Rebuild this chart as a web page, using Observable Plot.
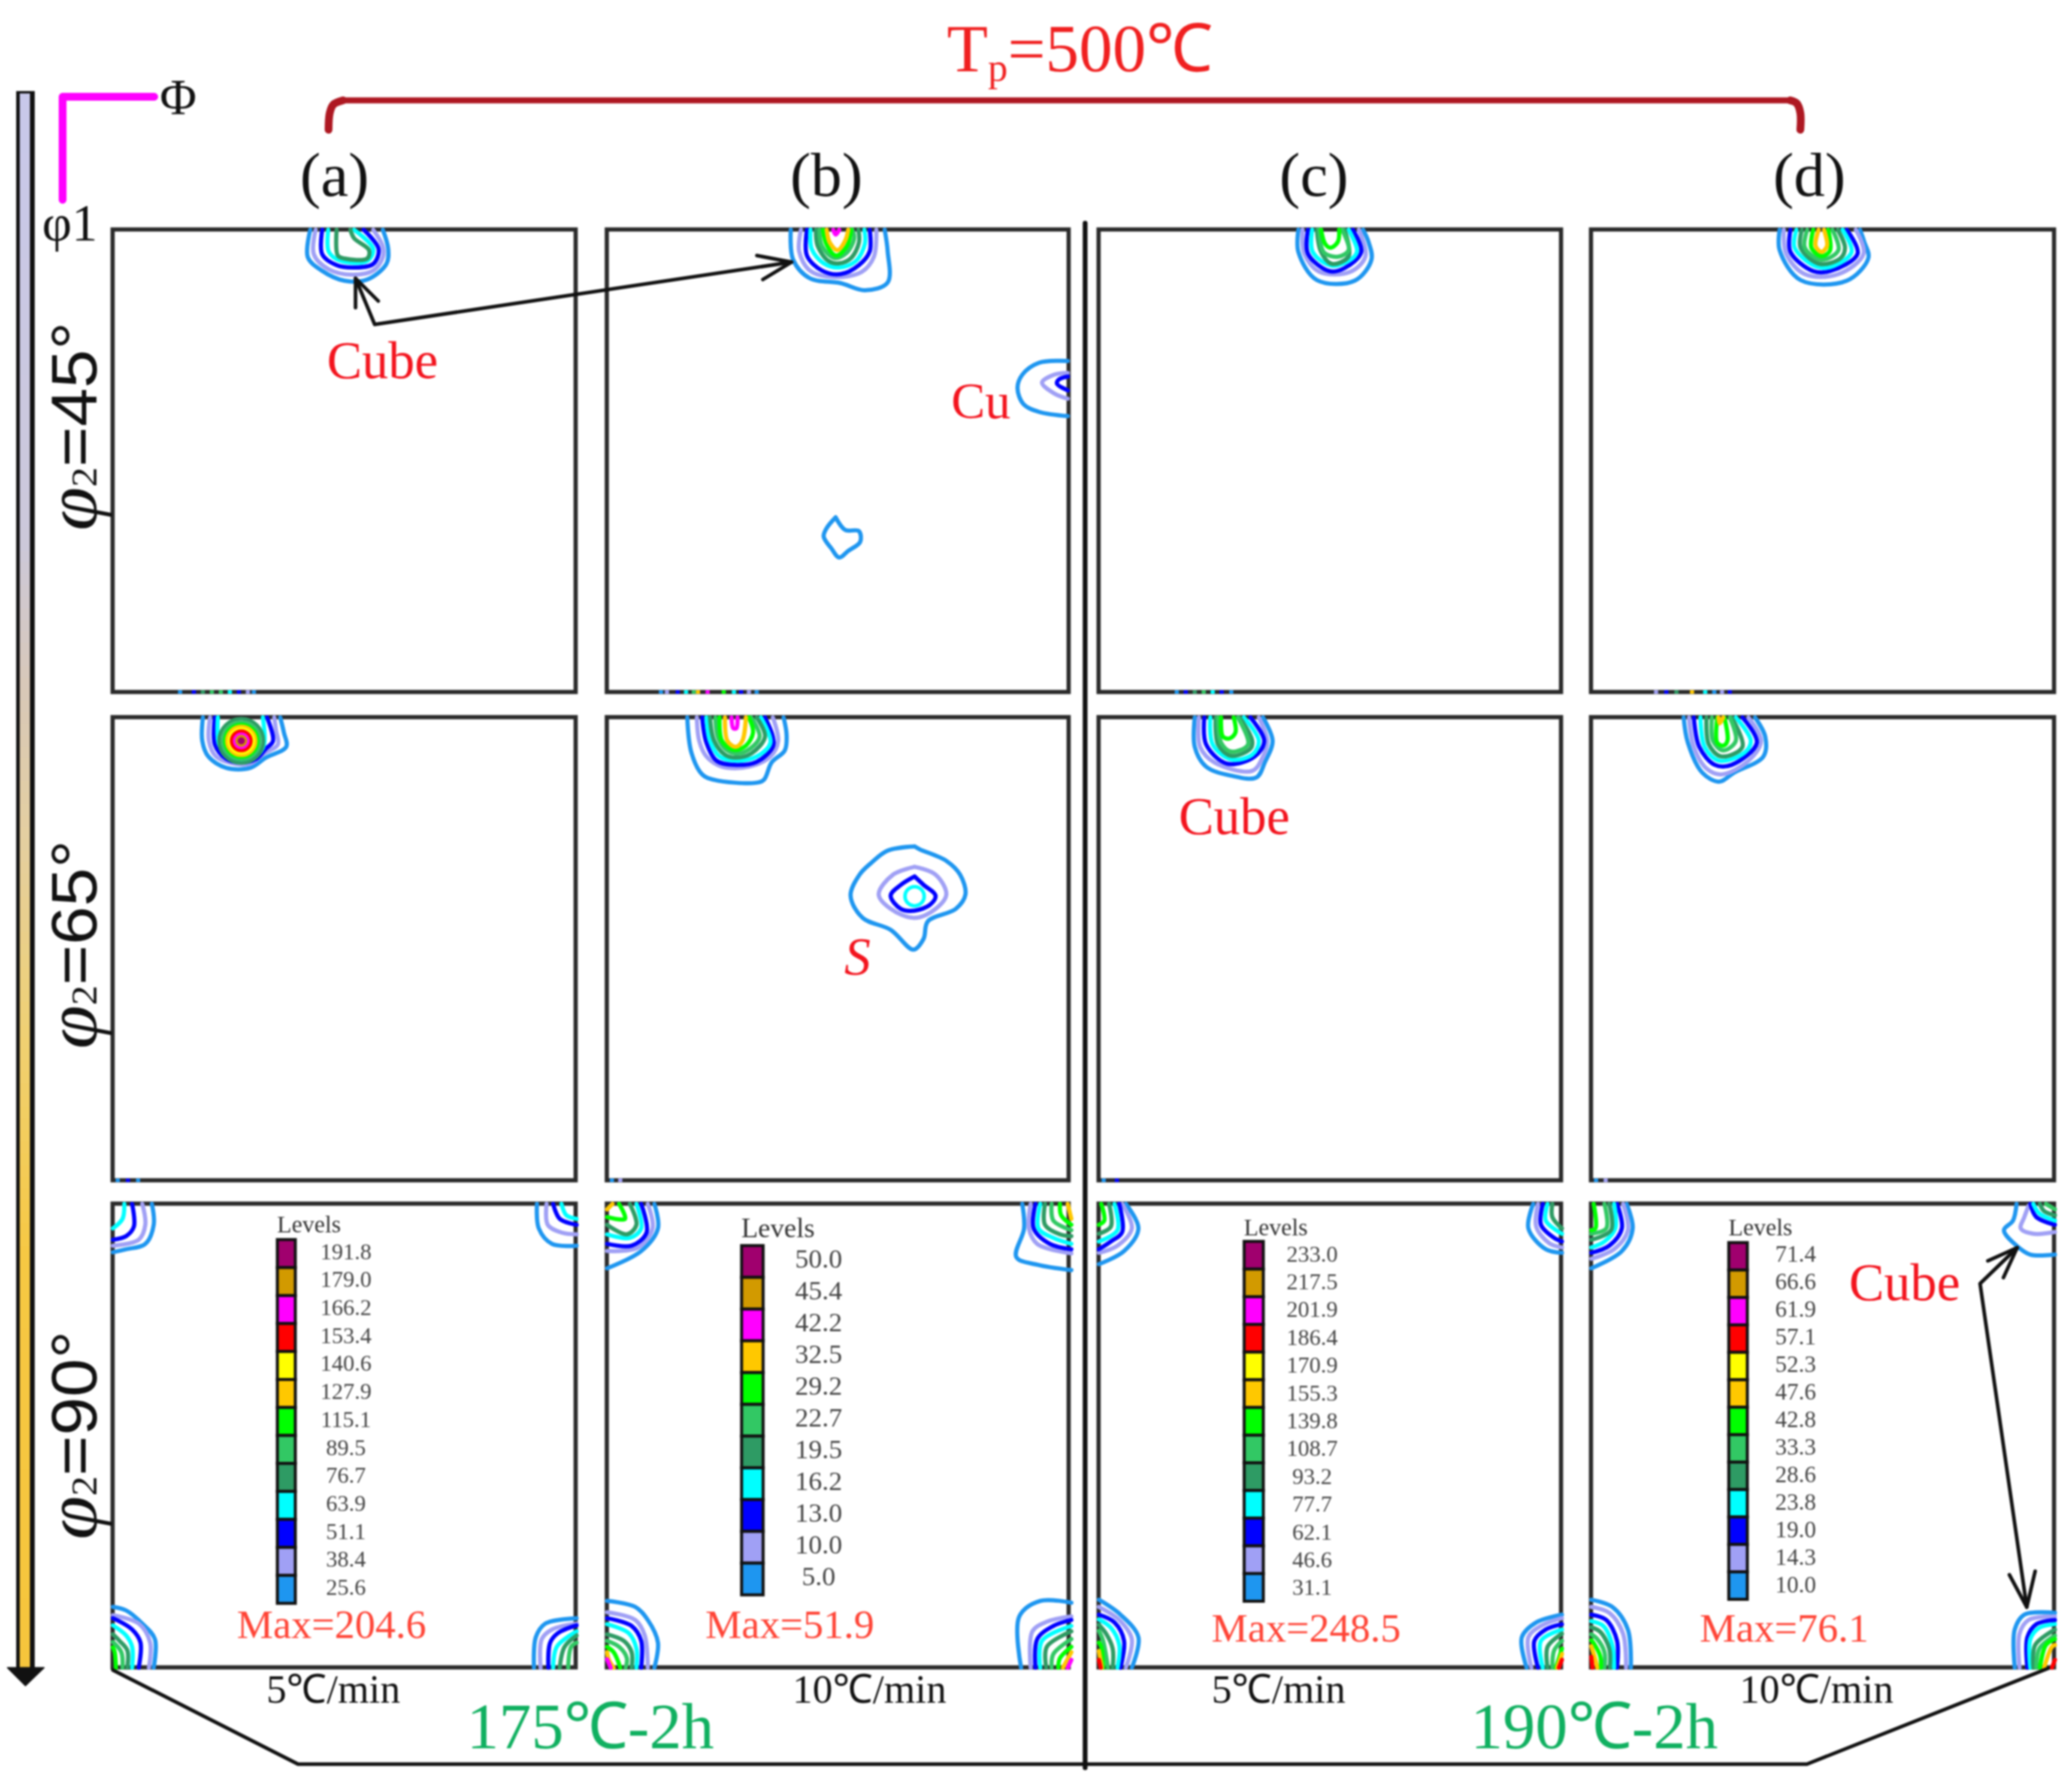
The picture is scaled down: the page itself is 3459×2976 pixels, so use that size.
<!DOCTYPE html>
<html><head><meta charset="utf-8">
<script src="https://cdn.jsdelivr.net/npm/d3@7"></script>
<script src="https://cdn.jsdelivr.net/npm/@observablehq/plot@0.6"></script>
<style>html,body{margin:0;padding:0;background:#fff}svg{display:block;filter:blur(1.8px)}</style>
</head><body><div id="chart"></div>
<script>
// ---- values -----
const levelColors=["#1E96F0","#A0A0F5","#0000FF","#00FFFF","#2E9B64","#32C864","#00FF00","#FFC800","#FFFF00","#FF0000","#FF00FF","#D29A00","#A0006E"];
const levelsA=[191.8,179.0,166.2,153.4,140.6,127.9,115.1,89.5,76.7,63.9,51.1,38.4,25.6];
const levelsB=[50.0,45.4,42.2,32.5,29.2,22.7,19.5,16.2,13.0,10.0,5.0];
const levelsC=[233.0,217.5,201.9,186.4,170.9,155.3,139.8,108.7,93.2,77.7,62.1,46.6,31.1];
const levelsD=[71.4,66.6,61.9,57.1,52.3,47.6,42.8,33.3,28.6,23.8,19.0,14.3,10.0];
const levelsBIndex=[12,11,10,7,6,5,4,3,2,1,0];
const maxValues=["Max=204.6","Max=51.9","Max=248.5","Max=76.1"];
const rates=["5℃/min","10℃/min","5℃/min","10℃/min"];
const panelNames=["(a)","(b)","(c)","(d)"];
const phi2Labels=["φ2=45°","φ2=65°","φ2=90°"];

// ODF iso-contours: [level index, [[Φ unit, φ1 unit],...]]; the panel spans 772 units
const ringsA45=[
[0,[[329,0],[325,46],[348,68],[386,85],[424,83],[456,57],[459,32],[450,0]]],
[1,[[338,0],[335,41],[360,66],[399,75],[434,68],[450,46],[450,28],[434,0]]],
[2,[[349,0],[349,41],[373,59],[402,63],[434,57],[443,32],[418,0]]],
[3,[[359,0],[360,37],[380,52],[424,52],[434,32],[402,0]]],
[4,[[373,0],[375,43],[386,48],[424,48],[427,34],[402,14],[396,0]]]];
const ringsB45=[
[0,[[307,0],[311,50],[339,81],[390,89],[431,101],[469,88],[469,36],[464,0]]],
[1,[[324,0],[321,36],[339,68],[380,79],[426,70],[446,45],[450,0]]],
[2,[[334,0],[334,43],[359,68],[390,74],[421,59],[439,36],[439,0]]],
[3,[[340,0],[342,32],[362,56],[388,63],[416,52],[431,23],[430,0]]],
[4,[[349,0],[352,27],[370,52],[388,56],[408,47],[421,21],[420,0]]],
[5,[[355,0],[359,27],[380,47],[400,39],[413,14],[410,0]]],
[6,[[361,0],[367,25],[383,43],[401,27],[408,0]]],
[7,[[367,0],[372,21],[385,34],[398,18],[403,0]]],
[10,[[378,0],[382,8],[388,0]]],
[0,[[770,219],[722,222],[694,242],[686,264],[696,291],[722,304],[770,311]]],
[1,[[770,239],[747,242],[727,255],[747,273],[770,282]]],
[2,[[770,245],[755,250],[752,257],[770,268]]],
[0,[[382,480],[367,498],[362,512],[375,532],[388,547],[403,536],[423,521],[421,503],[398,501],[382,480]]]];
const ringsC45=[
[0,[[333,0],[333,37],[364,84],[427,85],[455,50],[450,20],[441,0]]],
[1,[[340,0],[343,40],[368,70],[420,70],[445,44],[434,0]]],
[2,[[349,0],[349,40],[385,69],[410,64],[438,37],[424,0]]],
[3,[[356,0],[357,37],[389,60],[424,47],[431,35],[417,0]]],
[4,[[364,0],[371,37],[389,57],[417,44],[410,0]]],
[5,[[368,0],[375,37],[399,45],[417,34],[406,0]]],
[6,[[371,0],[378,24],[387,30],[399,20],[401,0]]]];
const ringsD45=[
[0,[[314,0],[314,34],[349,84],[426,85],[462,47],[455,20],[448,0]]],
[1,[[321,0],[325,40],[356,74],[412,74],[454,40],[441,0]]],
[2,[[332,0],[332,37],[370,69],[398,69],[444,40],[426,0]]],
[3,[[342,0],[339,30],[377,62],[405,60],[434,37],[419,0]]],
[4,[[351,0],[349,30],[381,57],[416,47],[423,30],[411,0]]],
[5,[[360,0],[356,30],[384,50],[412,34],[402,0]]],
[6,[[370,0],[367,30],[384,44],[398,35],[395,0]]],
[7,[[379,0],[374,27],[384,37],[393,27],[388,0]]]];
const ringsA65=[
[0,[[150,0],[149,39],[159,65],[189,84],[229,84],[255,67],[289,49],[285,25],[279,0]]],
[1,[[162,0],[160,39],[172,65],[202,77],[229,77],[252,60],[275,45],[272,22],[269,0]]],
[2,[[170,0],[170,45],[189,69],[212,75],[239,69],[255,52],[267,39],[257,0]]],
[3,[[175,0],[177,45],[195,65],[215,70],[239,64],[252,45],[250,0]]]];
const ringsB65=[
[0,[[134,0],[141,59],[159,95],[179,104],[248,109],[262,104],[275,75],[297,55],[300,29],[295,0]]],
[1,[[150,0],[154,39],[166,65],[192,82],[237,82],[273,65],[286,39],[277,0]]],
[2,[[159,0],[166,42],[183,72],[212,79],[250,74],[277,49],[277,32],[264,0]]],
[3,[[166,0],[172,39],[188,65],[215,72],[250,65],[273,42],[257,0]]],
[4,[[172,0],[179,39],[197,62],[215,67],[241,60],[264,32],[250,0]]],
[5,[[181,0],[186,35],[201,55],[219,60],[239,52],[255,32],[241,0]]],
[6,[[188,0],[192,39],[212,54],[232,47],[244,25],[237,0]]],
[7,[[197,0],[201,39],[215,49],[226,39],[232,0]]],
[10,[[208,0],[211,18],[216,18],[218,0]]],
[0,[[514,215],[469,222],[442,242],[422,262],[407,297],[427,334],[474,354],[512,387],[529,369],[536,340],[583,319],[599,295],[590,262],[567,239],[523,220],[514,215]]],
[1,[[514,249],[478,262],[454,295],[474,319],[514,334],[549,319],[567,295],[549,262],[514,249]]],
[2,[[514,265],[491,279],[474,297],[491,319],[514,322],[540,312],[549,297],[529,279],[514,265]]]];
const ringsC65=[
[0,[[160,0],[160,49],[179,82],[221,97],[263,100],[277,75],[290,39],[274,0]]],
[1,[[167,0],[169,49],[193,75],[256,89],[274,65],[281,39],[267,0]]],
[2,[[176,0],[179,45],[214,77],[260,65],[276,39],[253,0]]],
[3,[[186,0],[190,45],[221,70],[256,62],[267,39],[242,0]]],
[4,[[195,0],[199,45],[221,64],[253,52],[256,39],[235,0]]],
[5,[[199,0],[204,42],[221,57],[249,45],[232,0]]],
[6,[[204,0],[207,32],[218,35],[228,25],[225,0]]]];
const ringsD65=[
[0,[[154,0],[161,42],[185,92],[213,107],[238,92],[287,65],[290,32],[273,0]]],
[1,[[163,0],[171,49],[192,85],[217,95],[262,72],[283,39],[262,0]]],
[2,[[171,0],[180,49],[206,79],[234,79],[276,42],[252,0]]],
[3,[[182,0],[189,49],[213,72],[255,59],[266,39],[241,0]]],
[4,[[192,0],[196,45],[217,65],[252,49],[234,0]]],
[5,[[201,0],[203,39],[220,55],[241,39],[231,0]]],
[6,[[210,0],[210,42],[220,47],[227,39],[222,0]]],
[7,[[212,0],[214,10],[220,0]]]];
// φ2=90°: the panel spans 773 × 778 units, one blob per corner
const ringsA90=[
[0,[[65,0],[68,35],[54,67],[22,76],[0,81]]],[1,[[49,0],[54,35],[43,60],[0,70]]],[2,[[32,0],[35,38],[22,54],[0,60]]],[3,[[19,0],[16,25],[0,41]]],
[0,[[707,0],[710,41],[732,67],[773,70]]],[1,[[723,0],[725,35],[748,48],[773,51]]],[2,[[734,0],[745,25],[773,35]]],[3,[[748,0],[756,19],[773,25]]],
[0,[[0,676],[22,682],[49,704],[70,730],[68,778]]],[1,[[0,690],[43,704],[62,736],[60,778]]],[2,[[0,695],[32,714],[46,736],[43,778]]],[3,[[0,707],[22,724],[32,743],[32,778]]],[4,[[0,722],[11,733],[24,749],[24,778]]],[5,[[0,735],[14,752],[16,778]]],[6,[[0,744],[3,752],[5,778]]],
[0,[[702,778],[705,727],[721,704],[773,695]]],[1,[[713,778],[715,730],[732,714],[773,704]]],[2,[[726,778],[729,736],[742,720],[773,707]]],[3,[[734,778],[740,743],[773,717]]],[4,[[745,778],[753,743],[773,724]]],[5,[[759,778],[764,743],[773,736]]]];
const ringsB90=[
[0,[[79,0],[85,41],[57,79],[0,108]]],[1,[[68,0],[76,41],[52,73],[0,79]]],[2,[[57,0],[66,48],[41,70],[0,67]]],[3,[[49,0],[57,41],[38,57],[0,51]]],[4,[[38,0],[49,35],[33,51],[0,35]]],[6,[[20,0],[30,25],[0,22]]],[7,[[9,0],[0,9]]],
[0,[[694,0],[697,41],[684,89],[719,102],[776,111]]],[1,[[708,0],[705,41],[719,67],[776,83]]],[2,[[716,0],[713,41],[740,67],[776,76]]],[3,[[724,0],[721,41],[746,57],[776,67]]],[4,[[732,0],[732,35],[757,51],[776,54]]],[5,[[743,0],[746,28],[776,44]]],[6,[[757,0],[759,19],[776,35]]],[7,[[770,0],[776,25]]],
[0,[[0,666],[47,676],[68,698],[85,736],[79,778]]],[1,[[0,685],[47,698],[63,724],[68,778]]],[2,[[0,695],[41,708],[57,733],[57,778]]],[3,[[0,705],[36,720],[49,746],[49,778]]],[4,[[0,722],[28,733],[41,752],[41,778]]],[5,[[0,733],[20,743],[33,762],[31,778]]],[6,[[0,743],[11,752],[22,778]]],[7,[[0,752],[3,765],[11,778]]],[10,[[0,764],[6,778]]],
[0,[[692,778],[689,692],[724,666],[776,669]]],[1,[[708,778],[711,717],[735,701],[776,692]]],[2,[[716,778],[719,730],[746,708],[776,698]]],[3,[[724,778],[727,733],[776,708]]],[4,[[734,778],[735,743],[776,717]]],[5,[[743,778],[746,755],[776,730]]],[6,[[754,778],[757,762],[776,743]]],[7,[[762,778],[776,752]]],[10,[[770,778],[776,765]]]];
const ringsC90=[
[0,[[45,0],[66,41],[42,79],[0,101]]],[1,[[39,0],[55,41],[31,70],[0,82]]],[2,[[34,0],[39,47],[20,63],[0,76]]],[3,[[26,0],[31,44],[0,63]]],[4,[[17,0],[20,38],[0,50]]],[6,[[4,0],[9,28],[0,35]]],
[0,[[725,0],[717,41],[746,76],[773,82]]],[1,[[733,0],[730,38],[752,66],[773,73]]],[2,[[741,0],[738,35],[760,57],[773,63]]],[3,[[749,0],[746,28],[773,50]]],[4,[[757,0],[757,22],[773,41]]],
[0,[[0,664],[36,689],[66,727],[55,778]]],[1,[[0,676],[34,698],[55,730],[45,778]]],[2,[[0,689],[26,702],[42,733],[36,778]]],[3,[[0,697],[20,711],[34,740],[31,778]]],[4,[[0,706],[12,721],[23,746],[23,778]]],[5,[[0,716],[7,733],[15,778]]],[6,[[0,736],[4,743],[7,778]]],[7,[[0,750],[5,778]]],[9,[[0,765],[3,778]]],
[0,[[714,778],[706,727],[730,702],[773,689]]],[1,[[722,778],[717,727],[738,708],[773,695]]],[2,[[733,778],[727,733],[746,714],[773,705]]],[3,[[741,778],[738,733],[773,714]]],[4,[[749,778],[749,743],[773,721]]],[5,[[757,778],[760,749],[773,733]]],[6,[[763,778],[773,746]]],[7,[[765,778],[773,755]]],[9,[[768,778],[773,765]]]];
const ringsD90=[
[0,[[59,0],[69,41],[51,79],[0,108]]],[1,[[53,0],[61,44],[38,76],[0,92]]],[2,[[43,0],[51,41],[30,70],[0,82]]],[3,[[38,0],[40,41],[22,63],[0,73]]],[4,[[30,0],[33,44],[0,60]]],[5,[[22,0],[25,41],[0,50]]],[6,[[4,0],[7,41],[0,44]]],
[0,[[709,0],[703,28],[688,44],[709,70],[732,85],[773,85]]],[1,[[729,3],[722,22],[716,41],[737,50],[773,47]]],[2,[[732,0],[742,22],[773,35]]],[3,[[737,0],[747,16],[773,28]]],[4,[[748,0],[755,12],[773,19]]],[5,[[758,0],[773,9]]],
[0,[[0,664],[35,676],[61,714],[66,778]]],[1,[[0,676],[30,686],[53,721],[58,778]]],[2,[[0,689],[25,698],[43,733],[43,778]]],[3,[[0,700],[20,708],[35,740],[38,778]]],[4,[[0,710],[15,718],[30,746],[31,778]]],[5,[[0,722],[10,730],[22,752],[22,778]]],[6,[[0,732],[4,737],[15,759],[16,778]]],[7,[[0,742],[7,765],[10,778]]],[9,[[0,760],[2,778]]],
[0,[[706,778],[706,714],[722,689],[773,686]]],[1,[[714,778],[714,721],[729,698],[773,692]]],[2,[[727,778],[727,727],[742,705],[773,698]]],[3,[[732,778],[732,730],[747,711],[773,705]]],[4,[[737,778],[740,740],[773,714]]],[5,[[742,778],[747,746],[773,724]]],[6,[[748,778],[758,740],[773,730]]],[7,[[755,778],[768,743],[773,740]]],[9,[[768,778],[773,765]]]];
// closed peaks: [col,row,Φ unit,φ1 unit,level,radius]
const peaks=[
[0,1,214,39,4,37],[0,1,214,39,5,31],[0,1,214,39,6,27],[0,1,214,39,7,24],[0,1,214,39,8,20],[0,1,214,39,9,16],[0,1,214,39,10,11],[0,1,214,39,11,7],[0,1,214,39,12,3],
[1,1,514,298,3,16]];
// level crossings on the periodic lower edge of a panel: [col,row,Φ unit,level]
const edgeTicks=[
[0,0,112,0],[0,0,135,2],[0,0,150,4],[0,0,165,5],[0,0,180,5],[0,0,195,3],[0,0,210,2],[0,0,225,1],[0,0,235,0],
[1,0,90,0],[1,0,100,1],[1,0,118,2],[1,0,132,3],[1,0,145,5],[1,0,152,7],[1,0,168,10],[1,0,195,6],[1,0,212,3],[1,0,224,2],[1,0,237,1],[1,0,250,0],
[2,0,130,0],[2,0,145,2],[2,0,160,4],[2,0,175,5],[2,0,190,3],[2,0,205,2],[2,0,221,0],
[3,0,108,1],[3,0,125,2],[3,0,142,4],[3,0,168,7],[3,0,190,3],[3,0,205,0],[3,0,218,1],[3,0,231,2],
[0,1,8,0],[0,1,25,2],[0,1,42,0],[1,1,8,0],[1,1,22,1],[2,1,8,0],[2,1,30,2],[3,1,8,0],[3,1,24,1]];

// ---- layout -----
const W=3459,H=2976;
const colLeft=[188,1013,1834,2656], colSpan=[773,771,772,773];
const rowTop=[383,1197,2009], rowSpan=[772,773,774], rowUnits=[772,772,778];
const legendBox=[
 {x1:463,x2:493,y1:2069,cell:46.7,lx:577,ly:2089,step:46.7,fs:38,tx:462,ty:2056,tw:40},
 {x1:1238,x2:1274,y1:2079,cell:53,lx:1366,ly:2101,step:53,fs:45,tx:1237,ty:2064,tw:46},
 {x1:2077,x2:2109,y1:2072,cell:46.2,lx:2190,ly:2093,step:46.4,fs:38,tx:2076,ty:2061,tw:40},
 {x1:2886,x2:2917,y1:2074,cell:45.8,lx:2997,ly:2093,step:46,fs:39,tx:2885,ty:2061,tw:40}];
const serif="'Liberation Serif','Times New Roman',serif";
const red="#F3141E", softRed="#FF4436", green="#10B060";
const texts=[
 ["Tp=500℃",1802,118,112,"#F02020"],
 ["Φ",297,190,84,"#111"],["φ1",116,400,86,"#111"],
 ["Cube",638,630,88,red],["Cu",1637,697,85,red],["S",1431,1625,88,red,"italic"],["Cube",2060,1391,88,red],["Cube",3179,2169,88,red],
 ["175℃-2h",985,2917,108,green],["190℃-2h",2661,2917,108,green],
 ...panelNames.map((t,i)=>[t,[558,1379,2193,3020][i],326,104,"#111"]),
 ...maxValues.map((t,i)=>[t,[553,1318,2180,2978][i],[2733,2733,2739,2739][i],68,softRed]),
 ...rates.map((t,i)=>[t,[556,1451,2134,3032][i],2841,67,"#111"])];
const rotated=[[phi2Labels[0],160,711],[phi2Labels[1],160,1576],[phi2Labels[2],160,2395]];
const arrows=[
 {w:6,pts:[[593,464],[625,541],[1321,437]]},{w:6,pts:[[593,513],[593,464],[631,502]]},{w:6,pts:[[1263,426],[1321,437],[1273,466]]},
 {w:6,pts:[[3367,2082],[3305,2142],[3383,2682]]},{w:6,pts:[[3318,2104],[3367,2082],[3344,2132]]},{w:6,pts:[[3354,2628],[3383,2682],[3397,2622]]},
 {w:6,pts:[[188,2787],[497,2944],[3016,2944],[3419,2784]]},{w:8,pts:[[1811,372],[1811,2950]]}];
const stripStops=[[156,"#C8C8EA"],[900,"#CCC8DA"],[1150,"#D8C8B8"],[1400,"#E4CFA0"],[1750,"#F0D070"],[2100,"#F6C843"],[2785,"#F6C53C"]];

// ---- derived rows for the marks -----
const gx=(c,u)=>colLeft[c]+u*colSpan[c]/772;
const gy=(r,v)=>rowTop[r]+v*rowSpan[r]/rowUnits[r];
const sets=[[0,0,ringsA45],[1,0,ringsB45],[2,0,ringsC45],[3,0,ringsD45],[0,1,ringsA65],[1,1,ringsB65],[2,1,ringsC65],[3,1,ringsD65],[0,2,ringsA90],[1,2,ringsB90],[2,2,ringsC90],[3,2,ringsD90]];
const ringRows=[];let rid=0;
sets.forEach(([c,r,rings])=>rings.forEach(([lvl,pts])=>{rid++;pts.forEach(([u,v])=>ringRows.push({id:rid,x:gx(c,u),y:gy(r,v),c:levelColors[lvl]}))}));
const panelRows=[];colLeft.forEach((_,c)=>rowTop.forEach((_,r)=>panelRows.push({x1:colLeft[c],x2:colLeft[c]+colSpan[c],y1:rowTop[r],y2:rowTop[r]+rowSpan[r]})));
const swatches=[],levelTexts=[];
[levelsA,levelsB,levelsC,levelsD].forEach((vals,i)=>{const b=legendBox[i];vals.forEach((v,k)=>{
 const lvl=i===1?levelsBIndex[k]:12-k;
 swatches.push({x1:b.x1,x2:b.x2,y1:b.y1+k*b.cell,y2:b.y1+(k+1)*b.cell,c:levelColors[lvl]});
 levelTexts.push({t:v.toFixed(1),x:b.lx,y:b.ly+k*b.step,fs:b.fs});
});});
const strip=[];for(let k=0;k<stripStops.length-1;k++){const [a,ca]=stripStops[k],[b,cb]=stripStops[k+1];const f=d3.interpolateRgb(ca,cb);const n=Math.ceil((b-a)/20);for(let j=0;j<n;j++)strip.push({y1:a+(b-a)*j/n,y2:a+(b-a)*(j+1)/n+1,c:f((j+.5)/n)});}
const arrowRows=[];arrows.forEach((a,i)=>a.pts.forEach(([x,y])=>arrowRows.push({id:i,x,y,w:a.w})));
const tl=(rows,o)=>Plot.line(rows,{x:"x",y:"y",...o});

const marks=[
 // φ1 progression arrow
 Plot.rect([{}],{x1:()=>31,x2:()=>54,y1:()=>156,y2:()=>2785,stroke:"#111",strokeWidth:8,fill:"none"}),
 Plot.rect(strip,{x1:()=>33,x2:()=>50,y1:"y1",y2:"y2",fill:"c"}),
 Plot.line([[12,2783],[73,2783],[42,2813],[12,2783]],{x:d=>d[0],y:d=>d[1],fill:"#111",stroke:"#111",strokeWidth:2}),
 // axes key
 Plot.line([[104,333],[104,161],[257,161]],{x:d=>d[0],y:d=>d[1],stroke:"#FF00FF",strokeWidth:13}),
 // bracket
 Plot.line([[572,167],[2988,167]],{x:d=>d[0],y:d=>d[1],stroke:"#AE1822",strokeWidth:10}),
 Plot.line([[548,216],[550,188],[556,174],[572,167]],{x:d=>d[0],y:d=>d[1],stroke:"#AE1822",strokeWidth:13,curve:"catmull-rom"}),
 Plot.line([[2988,167],[2999,172],[3005,188],[3005,216]],{x:d=>d[0],y:d=>d[1],stroke:"#AE1822",strokeWidth:13,curve:"catmull-rom"}),
 // panels
 Plot.rect(panelRows,{x1:"x1",x2:"x2",y1:"y1",y2:"y2",stroke:"#2a2a2a",strokeWidth:7,fill:"none"}),
 // periodic edge ticks
 Plot.ruleX(edgeTicks,{x:d=>gx(d[0],d[2]),y1:d=>rowTop[d[1]]+rowSpan[d[1]]-3,y2:d=>rowTop[d[1]]+rowSpan[d[1]]+3,stroke:d=>levelColors[d[3]],strokeWidth:7}),
 // contours
 tl(ringRows,{z:"id",stroke:"c",strokeWidth:7,curve:"catmull-rom"}),
 Plot.dot(peaks,{x:d=>gx(d[0],d[2]),y:d=>gy(d[1],d[3]),r:d=>d[5]*1,stroke:d=>levelColors[d[4]],strokeWidth:6,fill:"none"}),
 // arrows, frame lines
 ...arrows.map((a,i)=>tl(arrowRows.filter(d=>d.id===i),{stroke:"#111",strokeWidth:a.w})),
 // legends
 Plot.rect(swatches,{x1:"x1",x2:"x2",y1:"y1",y2:"y2",fill:"c",stroke:"#111",strokeWidth:5}),
 ...levelTexts.map(d=>Plot.text([d],{x:"x",y:"y",text:"t",fontSize:d.fs,fontFamily:serif,fill:"#444",textAnchor:"middle"})),
 ...legendBox.map(b=>Plot.text([b],{x:"tx",y:"ty",text:()=>"Levels",fontSize:b.tw,fontFamily:serif,fill:"#333",textAnchor:"start",lineAnchor:"bottom"})),
 // annotations
 ...texts.map(([t,x,y,fs,c,st])=>Plot.text([{t,x,y}],{x:"x",y:"y",text:"t",fontSize:fs,fontFamily:serif,fill:c,fontStyle:st||"normal",textAnchor:"middle",lineAnchor:"bottom"})),
 ...rotated.map(([t,x,y])=>Plot.text([{t,x,y}],{x:"x",y:"y",text:"t",rotate:-90,fontSize:107,fontFamily:"'Liberation Sans',Arial,sans-serif",fill:"#111",textAnchor:"middle",lineAnchor:"bottom"}))
];

const chart=Plot.plot({width:W,height:H,margin:0,
 x:{domain:[0,W],axis:null},y:{domain:[H,0],axis:null},
 color:{type:"identity"},r:{type:"identity"},
 style:{background:"#fff"},marks});

// sub-scripts and mixed faces live inside one real text element
function mk(parent,t,a){const s=document.createElementNS("http://www.w3.org/2000/svg","tspan");s.textContent=t;for(const k in a)s.setAttribute(k,a[k]);parent.appendChild(s);}
d3.select(chart).selectAll("text").each(function(){
 const s=this.textContent;
 if(s==="Tp=500℃"){this.textContent="";mk(this,"T",{});mk(this,"p",{"font-size":66,dy:16});mk(this,"=500℃",{dy:-16});}
 const m=s.match(/^φ2(=\d+°)$/);
 if(m){this.textContent="";
  mk(this,"φ",{"font-family":serif,"font-style":"italic","font-size":122});
  mk(this,"2",{"font-family":serif,"font-size":62});
  mk(this,m[1],{});
  const tr=this.getAttribute("transform")||"";this.setAttribute("transform",tr+" scale(1.08,1)");}
});
document.getElementById("chart").appendChild(chart);
</script></body></html>
